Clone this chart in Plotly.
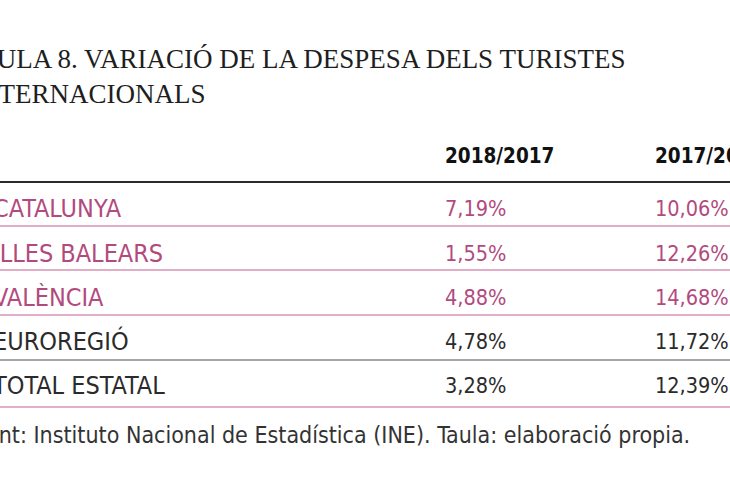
import plotly.graph_objects as go

# Table content
title_lines = ["TAULA 8. VARIACIÓ DE LA DESPESA DELS TURISTES", "INTERNACIONALS"]
col_headers = ["2018/2017", "2017/2016"]
regions = ["CATALUNYA", "ILLES BALEARS", "VALÈNCIA", "EUROREGIÓ", "TOTAL ESTATAL"]
var_2018_2017 = [7.19, 1.55, 4.88, 4.78, 3.28]
var_2017_2016 = [10.06, 12.26, 14.68, 11.72, 12.39]
source_text = "Font: Instituto Nacional de Estadística (INE). Taula: elaboració propia."

PINK = "#b24a7e"
PINK_LINE = "#d993b6"
DARK = "#2b2b2b"
SANS = "DejaVu Sans Condensed, sans-serif"
SERIF = "Liberation Serif, serif"

# layout in pixels (page is 730 x 500, y grows downwards)
x_label = -7
x_col = [445, 655]
y_header = 158
y_row0 = 211
row_step = 44.25
row_y = [y_row0 + i * row_step for i in range(len(regions))]
rule_y = [182, 226, 270, 315, 360, 407]


def fmt(v):
    return f"{v:.2f}".replace(".", ",") + "%"


text_colors = [PINK, PINK, PINK, DARK, DARK]
rule_colors = [DARK, PINK_LINE, PINK_LINE, PINK_LINE, "#8a8a8a", PINK_LINE]
rule_widths = [2, 1.5, 1.5, 1.5, 1.5, 1.5]

fig = go.Figure()

# horizontal rules
for y, c, w in zip(rule_y, rule_colors, rule_widths):
    fig.add_trace(go.Scatter(x=[-10, 740], y=[y, y], mode="lines",
                             line=dict(color=c, width=w), hoverinfo="skip"))

# title (two lines)
fig.add_trace(go.Scatter(
    x=[-37, -30], y=[61.5, 96.5], mode="text", text=title_lines,
    textposition="middle right",
    textfont=dict(family=SERIF, size=27, color="#1e1e1e"),
))

# column headers
fig.add_trace(go.Scatter(
    x=x_col, y=[y_header] * 2, mode="text", text=col_headers,
    textposition="middle right",
    textfont=dict(family=SANS, size=20.5, color="#111111", weight="bold"),
))

# region labels
fig.add_trace(go.Scatter(
    x=[x_label] * len(regions), y=row_y, mode="text", text=regions,
    textposition="middle right",
    textfont=dict(family=SANS, size=25, color=text_colors),
))

# values
for xc, vals in zip(x_col, [var_2018_2017, var_2017_2016]):
    fig.add_trace(go.Scatter(
        x=[xc] * len(vals), y=row_y, mode="text", text=[fmt(v) for v in vals],
        textposition="middle right",
        textfont=dict(family=SANS, size=21.5, color=text_colors),
    ))

# source
fig.add_trace(go.Scatter(
    x=[-25], y=[437], mode="text", text=[source_text],
    textposition="middle right",
    textfont=dict(family=SANS, size=23, color="#333333"),
))

fig.update_layout(
    width=730, height=500,
    margin=dict(l=0, r=0, t=0, b=0),
    paper_bgcolor="white", plot_bgcolor="white",
    showlegend=False,
    hovermode=False,
    xaxis=dict(range=[0, 730], visible=False, fixedrange=True),
    yaxis=dict(range=[500, 0], visible=False, fixedrange=True),
)

fig.write_html("out.html", config={"displayModeBar": False},
               post_script="document.body.style.margin='0';")
